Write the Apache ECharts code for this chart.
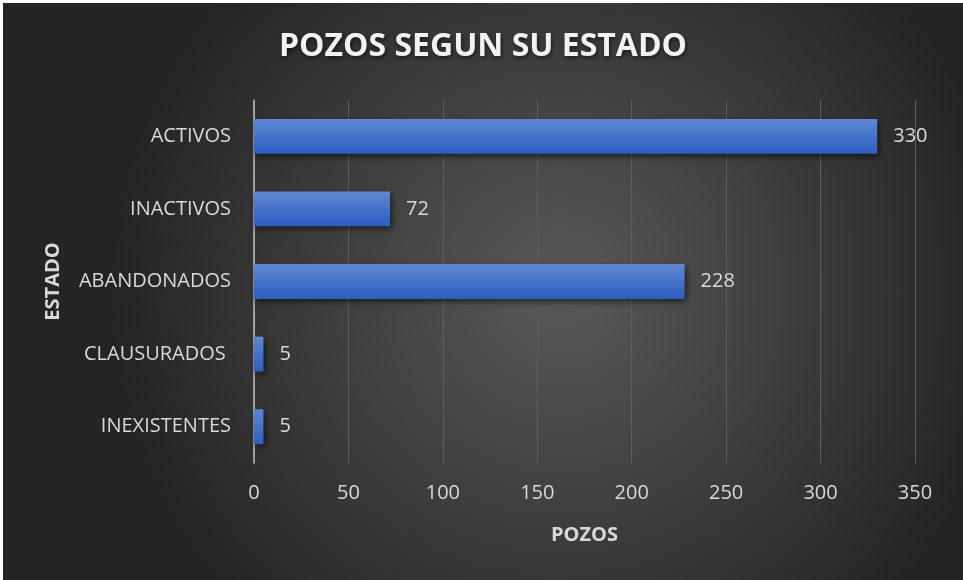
<!DOCTYPE html>
<html>
<head>
<meta charset="utf-8">
<script src="https://cdn.jsdelivr.net/npm/echarts@6/dist/echarts.min.js"></script>
<style>
html,body{margin:0;padding:0;background:#ffffff;width:963px;height:580px;overflow:hidden;}
#chart{position:absolute;left:3px;top:3px;width:960px;height:577px;}
</style>
</head>
<body>
<div id="chart"></div>
<script>
const titleText = 'POZOS SEGUN SU ESTADO';
const categories = ['ACTIVOS', 'INACTIVOS', 'ABANDONADOS', 'CLAUSURADOS ', 'INEXISTENTES'];
const values = [330, 72, 228, 5, 5];
const xTicks = [0, 50, 100, 150, 200, 250, 300, 350];
const xAxisName = 'POZOS';
const yAxisName = 'ESTADO';

const chart = echarts.init(document.getElementById('chart'), null, {renderer: 'canvas'});
const font = '"Open Sans", "Liberation Sans", sans-serif';
chart.setOption({
  animation: false,
  backgroundColor: {
    type: 'radial', x: 0.58, y: 0.5, r: 0.78,
    colorStops: [{offset: 0, color: '#595959'}, {offset: 1, color: '#242424'}]
  },
  title: {
    text: titleText, left: 'center', top: 23,
    textStyle: {
      color: '#f2f2f2', fontSize: 32, fontWeight: 'bold', fontFamily: font,
      textShadowColor: 'rgba(0,0,0,0.6)', textShadowBlur: 4, textShadowOffsetX: 1, textShadowOffsetY: 2
    }
  },
  grid: {left: 251, right: 48, top: 97, bottom: 117, containLabel: false},
  xAxis: {
    type: 'value', min: xTicks[0], max: xTicks[xTicks.length - 1], interval: 50,
    name: xAxisName, nameLocation: 'middle', nameGap: 62,
    nameTextStyle: {color: '#d9d9d9', fontSize: 20, fontWeight: 'bold', fontFamily: font},
    axisLine: {show: false}, axisTick: {show: false},
    axisLabel: {color: '#d9d9d9', fontSize: 20, fontFamily: font, margin: 20},
    splitLine: {show: true, lineStyle: {color: '#5e5e5e', width: 1}}
  },
  yAxis: {
    type: 'category', data: categories, inverse: true,
    name: yAxisName, nameLocation: 'middle', nameGap: 191, nameRotate: 90,
    nameTextStyle: {color: '#d9d9d9', fontSize: 20, fontWeight: 'bold', fontFamily: font},
    axisLine: {show: true, lineStyle: {color: '#bfbfbf', width: 1.5}},
    axisTick: {show: false},
    axisLabel: {color: '#d9d9d9', fontSize: 20, fontFamily: font, margin: 23}
  },
  series: [{
    type: 'bar', data: values, barWidth: '48%',
    itemStyle: {
      color: {type: 'linear', x: 0, y: 0, x2: 0, y2: 1,
        colorStops: [{offset: 0, color: '#5f87d4'}, {offset: 1, color: '#2c5ebf'}]},
      shadowColor: 'rgba(0,0,0,0.55)', shadowBlur: 6, shadowOffsetX: 2, shadowOffsetY: 3
    },
    label: {show: true, position: 'right', distance: 16, color: '#d9d9d9', fontSize: 20, fontFamily: font}
  }]
});
</script>
</body>
</html>
